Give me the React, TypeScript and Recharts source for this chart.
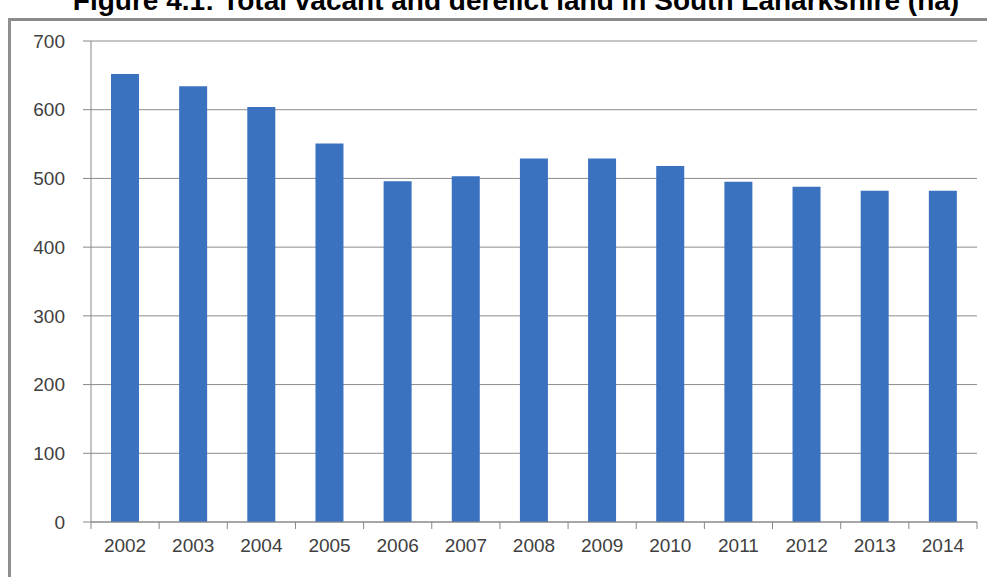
import React from 'react';
import { BarChart, Bar, XAxis, YAxis, CartesianGrid } from 'recharts';

const years = ['2002', '2003', '2004', '2005', '2006', '2007', '2008', '2009', '2010', '2011', '2012', '2013', '2014'];
const hectares = [652, 634, 604, 551, 496, 503, 529, 529, 518, 495, 488, 482, 482];
const yTicks = [0, 100, 200, 300, 400, 500, 600, 700];

const data = years.map((year, i) => ({ year, value: hectares[i] }));

const W = 987;
const H = 577;
const PLOT_LEFT = 91;
const PLOT_RIGHT = 977;
const HALF_BAND = (PLOT_RIGHT - PLOT_LEFT) / years.length / 2;

function YearTick(props: any) {
  const { x, y, payload, index } = props;
  const last = index === years.length - 1;
  return (
    <g>
      <line x1={x - HALF_BAND} y1={y} x2={x - HALF_BAND} y2={y + 7} stroke="#888" />
      {last && <line x1={x + HALF_BAND} y1={y} x2={x + HALF_BAND} y2={y + 7} stroke="#888" />}
      <text x={x} y={y + 30} textAnchor="middle" fontSize={19} fill="#404040" fontFamily="Liberation Sans, Arial, sans-serif">
        {payload.value}
      </text>
    </g>
  );
}

export default function App() {
  return (
    <div style={{ position: 'absolute', left: 0, top: 0, width: W, height: H, background: '#fff', overflow: 'hidden' }}>
      <div
        style={{
          position: 'absolute',
          left: 16,
          top: -15,
          width: 1000,
          lineHeight: '32px',
          textAlign: 'center',
          fontFamily: 'Liberation Sans, Arial, sans-serif',
          fontWeight: 'bold',
          fontSize: 28,
          color: '#000',
          whiteSpace: 'nowrap',
        }}
      >
        Figure 4.1: Total vacant and derelict land in South Lanarkshire (ha)
      </div>
      <div style={{ position: 'absolute', left: 8, top: 18, width: W - 8, height: 3, background: '#8a8a8a' }} />
      <div style={{ position: 'absolute', left: 8, top: 18, width: 3, height: H - 18, background: '#8f8f8f' }} />
      <div style={{ position: 'absolute', left: 0, top: 0 }}>
        <BarChart width={W} height={H} data={data} margin={{ top: 41, right: W - PLOT_RIGHT, bottom: 25, left: 0 }} barCategoryGap={20}>
          <CartesianGrid vertical={false} stroke="#8c8c8c" />
          <XAxis
            dataKey="year"
            height={30}
            axisLine={{ stroke: '#888' }}
            tickLine={false}
            tickSize={0}
            tickMargin={0}
            interval={0}
            tick={<YearTick />}
          />
          <YAxis
            width={PLOT_LEFT}
            domain={[0, 700]}
            ticks={yTicks}
            axisLine={{ stroke: '#888' }}
            tickLine={{ stroke: '#888' }}
            tickSize={8}
            tickMargin={18}
            tick={{ fontSize: 19, fill: '#404040', fontFamily: 'Liberation Sans, Arial, sans-serif' }}
          />
          <Bar dataKey="value" fill="#3a72c0" barSize={28} isAnimationActive={false} />
        </BarChart>
      </div>
    </div>
  );
}
